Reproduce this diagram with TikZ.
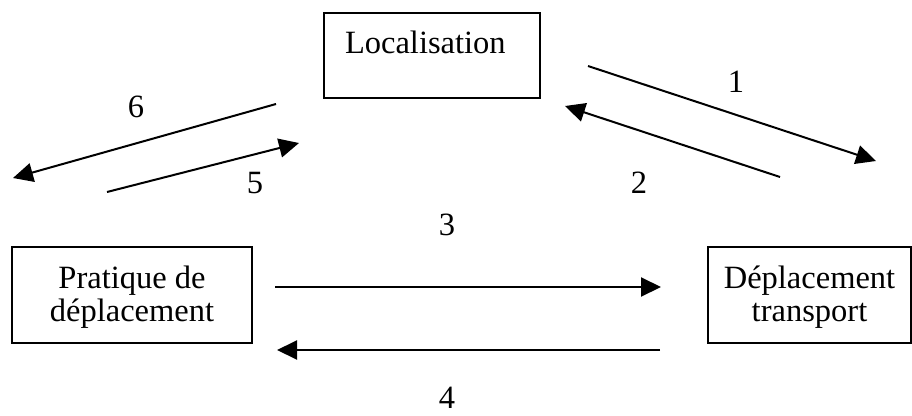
\documentclass[tikz,border=0pt]{standalone}
\usepackage{fontspec}
\setmainfont{Liberation Serif}
\usetikzlibrary{arrows.meta}
\begin{document}
\begin{tikzpicture}[x=1pt,y=-1pt,
  box/.style={draw, line width=1.5pt, inner sep=0pt, font=\fontsize{32.5}{33}\selectfont},
  conn/.style={line width=2pt, -{Triangle[length=20pt,width=19pt]}},
  num/.style={inner sep=0pt, anchor=base, font=\fontsize{32.5}{33}\selectfont}]
\useasboundingbox (0,0) rectangle (912,415);
% boxes
\node[box] (loc) at (432,55.5) {\makebox[216pt][l]{\rule[-45pt]{0pt}{85pt}\hspace{21pt}Localisation}};
\node[box] (prat) at (132,295) {\makebox[240pt]{\begin{tabular}{@{}c@{}}\rule{0pt}{41pt}Pratique de\\d\'eplacement\rule[-22pt]{0pt}{22pt}\end{tabular}}};
\node[box] (depl) at (809.5,295) {\makebox[203pt]{\begin{tabular}{@{}c@{}}\rule{0pt}{41pt}D\'eplacement\\transport\rule[-22pt]{0pt}{22pt}\end{tabular}}};
% connector end points
\coordinate (a1s) at (588,66);  \coordinate (a1e) at (876,161);
\coordinate (a2s) at (780,177); \coordinate (a2e) at (565,106);
\coordinate (a6s) at (276,104); \coordinate (a6e) at (13,178);
\coordinate (a5s) at (107,192); \coordinate (a5e) at (299,143);
\coordinate (a3s) at (275,287); \coordinate (a3e) at (661,287);
\coordinate (a4s) at (660,350); \coordinate (a4e) at (277,350);
\draw[conn] (a1s) -- (a1e);
\draw[conn] (a2s) -- (a2e);
\draw[conn] (a6s) -- (a6e);
\draw[conn] (a5s) -- (a5e);
\draw[conn] (a3s) -- (a3e);
\draw[conn] (a4s) -- (a4e);
% labels
\node[num] (n1) at (736,92) {1};
\node[num] (n2) at (639,193) {2};
\node[num] (n3) at (447,235) {3};
\node[num] (n4) at (447,408) {4};
\node[num] (n5) at (255,193) {5};
\node[num] (n6) at (136,117) {6};
\end{tikzpicture}
\end{document}
